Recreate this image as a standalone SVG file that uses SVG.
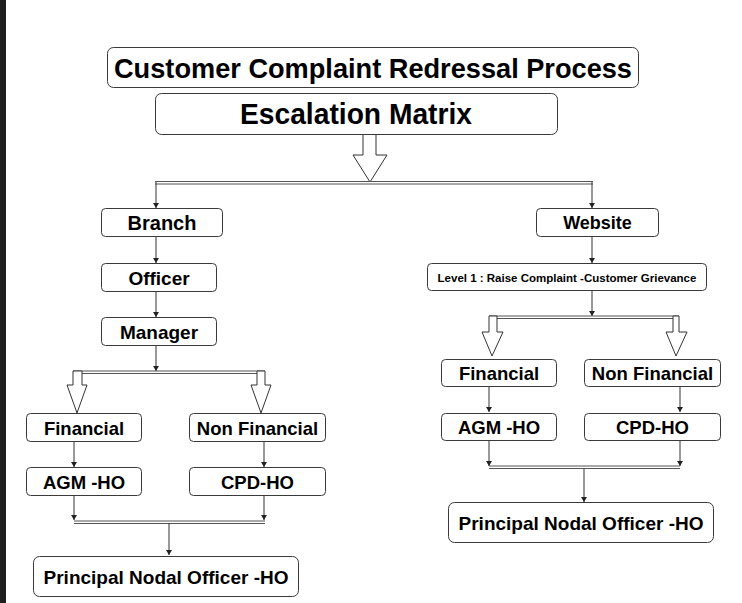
<svg xmlns="http://www.w3.org/2000/svg" width="742" height="603" viewBox="0 0 742 603">
<style>
.box{fill:#fff;stroke:#3a3a3a;stroke-width:1}
.t{font-family:"Liberation Sans",Arial,sans-serif;font-weight:bold;fill:#000;text-anchor:middle;dominant-baseline:central}
.ln{fill:none;stroke:#333;stroke-width:1}
.dl{fill:none;stroke:#555;stroke-width:1}
.ha{fill:#fff;stroke:#333;stroke-width:1;stroke-linejoin:miter}
</style>
<defs>
<marker id="ah" markerWidth="6" markerHeight="6" refX="5" refY="3" orient="auto" markerUnits="userSpaceOnUse">
<path d="M0,0 L5,3 L0,6 Z" fill="#222"/>
</marker>
</defs>
<rect x="0" y="0" width="742" height="603" fill="#fff"/>
<rect x="0" y="0" width="6" height="603" fill="#1e1e1e"/>

<g id="connectors">
<polygon class="ha" points="363,134 376,134 376,155 387,155 370,182 353,155 363,155"/>
<line class="dl" x1="155" y1="181.5" x2="593" y2="181.5"/>
<line class="dl" x1="155" y1="184" x2="593" y2="184"/>
<line class="ln" x1="156" y1="182" x2="156" y2="208" marker-end="url(#ah)"/>
<line class="ln" x1="592" y1="182" x2="592" y2="208" marker-end="url(#ah)"/>
<line class="ln" x1="156" y1="237" x2="156" y2="263" marker-end="url(#ah)"/>
<line class="ln" x1="156" y1="291" x2="156" y2="317" marker-end="url(#ah)"/>
<line class="ln" x1="156" y1="346" x2="156" y2="371" marker-end="url(#ah)"/>
<line class="dl" x1="73" y1="371" x2="265" y2="371"/>
<line class="dl" x1="73" y1="373.5" x2="265" y2="373.5"/>
<polygon class="ha" points="73,371 82,371 82,385 87,385 77,413 67,385 73,385"/>
<polygon class="ha" points="257,371 265,371 265,385 271,385 261,413 251,385 257,385"/>
<line class="ln" x1="74" y1="441" x2="74" y2="467" marker-end="url(#ah)"/>
<line class="ln" x1="264" y1="441" x2="264" y2="467" marker-end="url(#ah)"/>
<line class="ln" x1="74" y1="496" x2="74" y2="520" marker-end="url(#ah)"/>
<line class="ln" x1="264" y1="496" x2="264" y2="520" marker-end="url(#ah)"/>
<line class="dl" x1="74" y1="521" x2="265" y2="521"/>
<line class="dl" x1="74" y1="523.5" x2="265" y2="523.5"/>
<line class="ln" x1="169" y1="523" x2="169" y2="555" marker-end="url(#ah)"/>
<line class="ln" x1="592" y1="237" x2="592" y2="263" marker-end="url(#ah)"/>
<line class="ln" x1="592" y1="291" x2="592" y2="316" marker-end="url(#ah)"/>
<line class="dl" x1="489" y1="316" x2="679" y2="316"/>
<line class="dl" x1="489" y1="318.5" x2="679" y2="318.5"/>
<polygon class="ha" points="489,316 497,316 497,332 503,332 492,356 482,332 489,332"/>
<polygon class="ha" points="673,316 679,316 679,332 687,332 676,356 666,332 673,332"/>
<line class="ln" x1="489" y1="387" x2="489" y2="412" marker-end="url(#ah)"/>
<line class="ln" x1="680" y1="387" x2="680" y2="412" marker-end="url(#ah)"/>
<line class="ln" x1="489" y1="441" x2="489" y2="466" marker-end="url(#ah)"/>
<line class="ln" x1="680" y1="441" x2="680" y2="466" marker-end="url(#ah)"/>
<line class="dl" x1="489" y1="466" x2="680" y2="466"/>
<line class="dl" x1="489" y1="468.5" x2="680" y2="468.5"/>
<line class="ln" x1="584" y1="469" x2="584" y2="502" marker-end="url(#ah)"/>
</g>

<g id="title"><rect class="box" x="107.5" y="47.5" width="531" height="40" rx="6"/><text class="t" x="373" y="68" font-size="28" textLength="518" lengthAdjust="spacingAndGlyphs">Customer Complaint Redressal Process</text></g>
<g id="escalation"><rect class="box" x="155.5" y="93.5" width="402" height="41" rx="6"/><text class="t" x="356" y="114" font-size="29" textLength="232" lengthAdjust="spacingAndGlyphs">Escalation Matrix</text></g>

<g id="branch"><rect class="box" x="101.5" y="208.5" width="121" height="28" rx="4"/><text class="t" x="162" y="223" font-size="20">Branch</text></g>
<g id="officer"><rect class="box" x="101.5" y="263.5" width="115" height="28" rx="4"/><text class="t" x="159" y="278" font-size="19">Officer</text></g>
<g id="manager"><rect class="box" x="101.5" y="317.5" width="115" height="28" rx="4"/><text class="t" x="159" y="332" font-size="19">Manager</text></g>
<g id="fin-l"><rect class="box" x="26.5" y="413.5" width="115" height="28" rx="4"/><text class="t" x="84" y="428" font-size="18.5">Financial</text></g>
<g id="nonfin-l"><rect class="box" x="189.5" y="413.5" width="136" height="28" rx="4"/><text class="t" x="257.5" y="428" font-size="18.5">Non Financial</text></g>
<g id="agm-l"><rect class="box" x="26.5" y="467.5" width="115" height="28" rx="4"/><text class="t" x="84" y="482" font-size="18.5">AGM -HO</text></g>
<g id="cpd-l"><rect class="box" x="189.5" y="467.5" width="136" height="28" rx="4"/><text class="t" x="257.5" y="482" font-size="18.5">CPD-HO</text></g>
<g id="pno-l"><rect class="box" x="33.5" y="556.5" width="265" height="40" rx="6"/><text class="t" x="166" y="577" font-size="19">Principal Nodal Officer -HO</text></g>

<g id="website"><rect class="box" x="536.5" y="208.5" width="122" height="28" rx="4"/><text class="t" x="597.5" y="223" font-size="18">Website</text></g>
<g id="level1"><rect class="box" x="427.5" y="263.5" width="279" height="27" rx="4"/><text class="t" x="567" y="277.5" font-size="11.5">Level 1 : Raise Complaint -Customer Grievance</text></g>
<g id="fin-r"><rect class="box" x="441.5" y="359.5" width="115" height="27" rx="4"/><text class="t" x="499" y="373.5" font-size="18.5">Financial</text></g>
<g id="nonfin-r"><rect class="box" x="584.5" y="359.5" width="136" height="27" rx="4"/><text class="t" x="652.5" y="373.5" font-size="18.5">Non Financial</text></g>
<g id="agm-r"><rect class="box" x="441.5" y="413.5" width="115" height="27" rx="4"/><text class="t" x="499" y="427.5" font-size="18.5">AGM -HO</text></g>
<g id="cpd-r"><rect class="box" x="584.5" y="413.5" width="136" height="27" rx="4"/><text class="t" x="652.5" y="427.5" font-size="18.5">CPD-HO</text></g>
<g id="pno-r"><rect class="box" x="448.5" y="502.5" width="265" height="40" rx="6"/><text class="t" x="581" y="523" font-size="19">Principal Nodal Officer -HO</text></g>
</svg>
